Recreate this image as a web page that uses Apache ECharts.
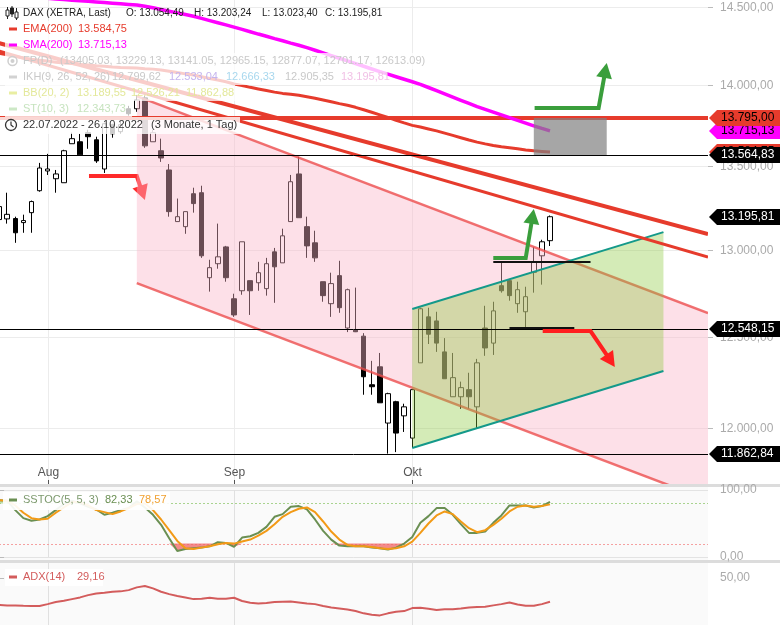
<!DOCTYPE html>
<html>
<head>
<meta charset="utf-8">
<title>DAX</title>
<script src="https://cdn.jsdelivr.net/npm/echarts@6.0.0/dist/echarts.min.js"></script>
<style>
html,body{margin:0;padding:0;background:#fff;}
#chart{width:780px;height:625px;}
</style>
</head>
<body>
<div id="chart"></div>
<script>
// ---------------- data ----------------
const dates = ['2022-07-22','2022-07-25','2022-07-26','2022-07-27','2022-07-28','2022-07-29',
'2022-08-01','2022-08-02','2022-08-03','2022-08-04','2022-08-05','2022-08-08','2022-08-09','2022-08-10','2022-08-11','2022-08-12','2022-08-15','2022-08-16','2022-08-17','2022-08-18','2022-08-19','2022-08-22','2022-08-23','2022-08-24','2022-08-25','2022-08-26','2022-08-29','2022-08-30','2022-08-31',
'2022-09-01','2022-09-02','2022-09-05','2022-09-06','2022-09-07','2022-09-08','2022-09-09','2022-09-12','2022-09-13','2022-09-14','2022-09-15','2022-09-16','2022-09-19','2022-09-20','2022-09-21','2022-09-22','2022-09-23','2022-09-26','2022-09-27','2022-09-28','2022-09-29','2022-09-30',
'2022-10-03','2022-10-04','2022-10-05','2022-10-06','2022-10-07','2022-10-10','2022-10-11','2022-10-12','2022-10-13','2022-10-14','2022-10-17','2022-10-18','2022-10-19','2022-10-20','2022-10-21','2022-10-24','2022-10-25','2022-10-26',
'2022-10-27','2022-10-28','2022-10-31','2022-11-01','2022-11-02','2022-11-03','2022-11-04','2022-11-07','2022-11-08','2022-11-09','2022-11-10','2022-11-11','2022-11-14','2022-11-15','2022-11-16','2022-11-17','2022-11-18','2022-11-21','2022-11-22'];

const open = [13179,13183,13185,13161,13220,13351,13470,13423,13399,13636,
13648,13704,13660,13482,13753,13710,13852,13852,13920,13648,
13593,13476,13167,13137,13333,13339,12839,12920,13018,12718,
12764,12822,12810,12776,12989,12925,13167,13452,13137,13042,
12816,12690,12851,12552,12540,12506,12236,12335,12027,12143,
12066,11946,12357,12615,12592,12418,12170,12170,12209,12115,
12552,12467,12793,12822,12690,12644,12870,12966,13054.49];
const close = [13256,13210,13101,13173,13286,13488,13482,13452,13593,13667,
13568,13679,13531,13759,13697,13753,13821,13907,13623,13704,
13549,13226,13196,13226,13274,12966,12897,12960,12839,12626,
13048,12764,12868,12920,12902,13083,13405,13190,13024,12954,
12736,12805,12667,12770,12531,12280,12225,12137,12187,11973,
12115,12209,12661,12517,12467,12269,12275,12220,12170,12357,
12440,12649,12764,12736,12770,12730,12931,13048,13195.81];
const low = [13167,13155,13042,13101,13101,13345,13446,13339,13399,13636,
13568,13605,13519,13458,13673,13697,13809,13833,13611,13648,
13525,13196,13167,13095,13220,12954,12759,12891,12816,12615,
12741,12626,12764,12736,12695,12925,13167,13190,12954,12931,
12701,12615,12638,12529,12529,12181,12181,12137,11862.84,11871,
11979,11893,12357,12462,12418,12269,12170,12104,12104,12000,
12396,12401,12753,12707,12638,12552,12753,12799,13023.40];
const high = [13369,13339,13196,13208,13292,13519,13574,13476,13599,13704,
13697,13722,13679,13765,13759,13771,13870,13938,13932,13722,
13667,13512,13304,13226,13369,13381,12943,13155,13024,12747,
13048,12822,12931,12954,13012,13125,13446,13556,13196,13113,
12816,12868,12937,12776,12782,12523,12368,12412,12192,12148,
12132,12209,12667,12667,12644,12495,12412,12253,12302,12379,
12678,12701,12931,12828,12816,12787,13018,13060,13203.24];

const ema200 = [14201,14192,14182,14172,14164,14158,14152,14145,14140,14136,
14131,14127,14122,14119,14115,14112,14110,14108,14104,14101,
14096,14088,14079,14071,14064,14053,14042,14032,14021,14007,
13998,13986,13976,13966,13956,13948,13943,13936,13927,13918,
13907,13896,13884,13874,13861,13846,13830,13814,13798,13780,
13764,13749,13739,13727,13715,13701,13687,13673,13659,13646,
13635,13625,13617,13612,13605,13598,13593,13589,13584.75];
const sma200 = [14590,14585,14578,14572,14566,14561,14557,14553,14549,14545,
14541,14537,14533,14529,14525,14521,14517,14513,14505,14495,
14484,14473,14462,14451,14440,14426,14412,14398,14384,14370,
14355,14340,14325,14311,14296,14282,14267,14253,14238,14221,
14204,14187,14170,14153,14136,14119,14102,14085,14069,14053,
14037,14021,14005,13985,13965,13945,13925,13905,13885,13865,
13848,13831,13814,13797,13780,13763,13746,13730,13715.13];

const sstocK = [85,84,70,58,54,56,61,70,79,84,
80,75,71,63,66,70,73,83,74,63,
48,28,9,12,13,14,16,22,21,15,
29,31,36,45,60,64,75,76,71,56,
39,26,17,16,16,16,14,13,11,14,
20,30,51,61,73,73,63,49,36,36,
38,51,62,77,77,77,74,76,82.33];
const sstocD = [85,84,77,66,58,56,57,66,74,82,
82,77,70,67,64,68,73,79,80,70,
56,40,24,13,12,14,16,19,21,20,
23,26,32,39,49,60,67,72,74,67,
53,38,26,18,16,16,15,13,12,13,
16,23,36,50,62,68,64,53,43,37,
40,48,57,68,75,77,75,76,78.57];
const adx14 = [26.3,26.0,25.8,25.6,25.5,25.4,27.1,28.9,30.0,31.5,
33.0,35.0,36.5,37.1,38.0,38.3,39.4,41.8,43.0,40.9,
38.0,35.9,34.2,33.0,31.5,31.9,32.7,31.9,31.9,32.7,
29.8,28.3,27.7,28.0,28.9,29.2,29.5,28.6,27.7,27.1,
25.4,24.2,23.3,22.4,21.0,19.0,17.8,17.2,19.0,20.4,
21.0,23.6,23.9,23.0,21.9,22.5,22.7,23.3,24.2,24.5,
24.8,26.0,27.1,28.6,26.8,25.6,25.6,27.1,29.16];

const priceTicks = [12000,12500,13000,13500,14000,14500];
const monthTickDates = ['2022-08-01','2022-09-01','2022-10-03'];
const monthTickLabels = ['Aug','Sep','Okt'];

// drawings: [category index (fractional), price]
const levelLines = [13564.83, 12548.15, 11862.84];
const resistanceLevel = 13795;
const trendA = [[0,14267],[87.5,13094]];
const trendB = [[0,14216],[87.5,12959]];
const pinkUpper = [[17,13931],[87.5,12637]];
const pinkLower = [[17,12808],[87.5,11618]];
const greenUpper = [[51,12660],[82,13105]];
const greenLower = [[51,11893],[82,12312]];
const greyBox = [[66,13564.83],[75,13795]];
const shortLines = [[[61,12931],[73,12931]], [[63,12552],[71,12552]]];
const arrowRedLeft = [[11.1,13439],[17.0,13439],[18.0,13295]];
const arrowGreenSmall = [[61.0,12953],[65.0,12953],[66.0,13242]];
const arrowGreenBig = [[66.1,13857],[74.0,13857],[75.0,14140]];
const arrowRedRight = [[67.1,12535],[73.0,12535],[76.0,12334]];

const tags = [
  {v:13715.13, bg:'#ff00ff', fg:'#000'},
  {v:13584.75, bg:'#e63b2c', fg:'#000'},
  {v:13795.00, bg:'#e63b2c', fg:'#000'},
  {v:13564.83, bg:'#000', fg:'#fff'},
  {v:13195.81, bg:'#000', fg:'#fff'},
  {v:12548.15, bg:'#000', fg:'#fff'},
  {v:11862.84, bg:'#000', fg:'#fff'}
];

// ---------------- helpers ----------------
const FONT = '"Liberation Sans", Arial, sans-serif';
const RED = '#e63b2c';
function de(v){
  const s = v.toFixed(2).split('.');
  return s[0].replace(/\B(?=(\d{3})+(?!\d))/g, '.') + ',' + s[1];
}
const ohlc = open.map((o,i) => [o, close[i], low[i], high[i]]);
const monthIdx = monthTickDates.map(d => dates.indexOf(d));
const XMIN = -0.5, XMAX = dates.length - 0.5;

function cp(api, pts){ return pts.map(p => api.coord(p)); }
function drawSeries(name, z, build, clip, xi, yi){
  return {type:'custom', name, xAxisIndex: xi == null ? 1 : xi, yAxisIndex: yi == null ? 0 : yi,
    z, clip: clip !== false, silent:true, data:[[0, 13000]],
    renderItem:(params, api) => ({type:'group', children: build(params, api)})};
}
function polyEl(api, pts, color, width){
  return {type:'polyline', shape:{points: cp(api, pts)}, style:{stroke:color, lineWidth:width, fill:null}};
}
function arrowEls(api, pts, color){
  const px = cp(api, pts);
  const n = px.length, tip = px[n-1], prev = px[n-2];
  const dx = tip[0]-prev[0], dy = tip[1]-prev[1], L = Math.hypot(dx, dy);
  const ux = dx/L, uy = dy/L, hl = 15, hw = 8;
  const base = [tip[0]-ux*hl, tip[1]-uy*hl];
  const shaft = px.slice(0, n-1).concat([[base[0]+ux*2, base[1]+uy*2]]);
  return [
    {type:'polyline', shape:{points:shaft}, style:{stroke:color, lineWidth:4, fill:null, lineJoin:'miter'}},
    {type:'polygon', shape:{points:[tip, [base[0]-uy*hw, base[1]+ux*hw], [base[0]+uy*hw, base[1]-ux*hw]]}, style:{fill:color}}
  ];
}
function txt(x, y, text, color, size, align){
  const a = align || 'left';
  return {type:'text', x, y, style:{text, fill:color, font:(size||12)+'px '+FONT, align:a, verticalAlign:'middle', textAlign:a, textVerticalAlign:'middle'}};
}

// month grid lines
function monthLines(xi, yi, yDummy, color, withLabels){
  return drawSeries('months'+xi, 1, (params, api) => {
    const cs = params.coordSys, ch = [];
    monthIdx.forEach((mi, k) => {
      const x = Math.round(api.coord([mi, yDummy])[0]) + 0.5;
      ch.push({type:'line', shape:{x1:x, y1:cs.y, x2:x, y2:cs.y+cs.height}, style:{stroke:color, lineWidth:1}});
      if (withLabels) {
        const b = cs.y + cs.height;
        ch.push({type:'line', shape:{x1:x, y1:b-4, x2:x, y2:b}, style:{stroke:'#555', lineWidth:1}});
        ch.push(txt(x, b-11, monthTickLabels[k], '#555', 12, 'center'));
      }
    });
    return ch;
  }, false, xi, yi);
}

// ---------------- graphic overlay (legends, panels) ----------------
const G = [];
function gRect(x, y, w, h, fill, z){ G.push({type:'rect', shape:{x, y, width:w, height:h}, style:{fill}, z: z == null ? 100 : z, silent:true}); }
function gText(x, y, text, color, size){ const t = txt(x, y, text, color, size || 11); t.z = 101; t.silent = true; G.push(t); }
function gDash(y, color){ gRect(9, y-1.5, 8, 3, color, 101); }

// panel backgrounds & separators
gRect(0, 487, 708, 73, '#fafafa', 0);
gRect(0, 563, 708, 62, '#fafafa', 0);
gRect(0, 484, 780, 3, '#dcdcdc', 0);
gRect(0, 560, 780, 3, '#dcdcdc', 0);

// row 1
G.push({type:'group', z:101, silent:true, children:[
  {type:'line', shape:{x1:7.5, y1:7, x2:7.5, y2:19}, style:{stroke:'#222', lineWidth:1}, z:101},
  {type:'rect', shape:{x:6, y:10, width:3, height:6}, style:{fill:'#fff', stroke:'#222', lineWidth:1}, z:101},
  {type:'line', shape:{x1:12, y1:6, x2:12, y2:17}, style:{stroke:'#222', lineWidth:1}, z:101},
  {type:'rect', shape:{x:10.5, y:8, width:3, height:6}, style:{fill:'#222', stroke:'#222', lineWidth:1}, z:101},
  {type:'line', shape:{x1:16.5, y1:8, x2:16.5, y2:20}, style:{stroke:'#222', lineWidth:1}, z:101},
  {type:'rect', shape:{x:15, y:12, width:3, height:6}, style:{fill:'#fff', stroke:'#222', lineWidth:1}, z:101}
]});
gText(23, 13, 'DAX (XETRA, Last)', '#222', 10);
gText(126, 13, 'O: 13.054,49', '#222', 10);
gText(194, 13, 'H: 13.203,24', '#222', 10);
gText(262, 13, 'L: 13.023,40', '#222', 10);
gText(325, 13, 'C: 13.195,81', '#222', 10);
// row 2 EMA
gRect(5, 21, 127, 16, 'rgba(255,255,255,0.75)');
gDash(29, RED); gText(23, 29, 'EMA(200)', RED); gText(78, 29, '13.584,75', RED);
// row 3 SMA
gRect(5, 37, 127, 16, 'rgba(255,255,255,0.75)');
gDash(45, '#ff00ff'); gText(23, 45, 'SMA(200)', '#ff00ff'); gText(78, 45, '13.715,13', '#ff00ff');
// row 4 FP
gRect(5, 53, 416, 16, 'rgba(255,255,255,0.75)');
G.push({type:'circle', shape:{cx:12.5, cy:61, r:4.5}, style:{fill:null, stroke:'#cfcfcf', lineWidth:1.5}, z:101, silent:true});
G.push({type:'circle', shape:{cx:12.5, cy:61, r:2}, style:{fill:'#cfcfcf'}, z:101, silent:true});
gText(23, 61, 'FP(D)', '#c9c9c9');
gText(60, 61, '(13405.03, 13229.13, 13141.05, 12965.15, 12877.07, 12701.17, 12613.09)', '#c9c9c9');
// row 5 IKH
gRect(5, 69, 382, 16, 'rgba(255,255,255,0.75)');
gDash(77, '#d2d2d2'); gText(23, 77, 'IKH(9, 26, 52, 26)', '#c9c9c9');
gText(112, 77, '12.799,62', '#c9c9c9'); gText(169, 77, '12.533,04', '#c4b4ee');
gText(226, 77, '12.666,33', '#a9d8ee'); gText(285, 77, '12.905,35', '#c9c9c9');
gText(341, 77, '13.195,81', '#f1c1e6');
// row 6 BB
gRect(5, 85, 230, 16, 'rgba(255,255,255,0.75)');
gDash(93, '#e9eea2'); gText(23, 93, 'BB(20, 2)', '#e3e89a');
gText(77, 93, '13.189,55', '#e3e89a'); gText(131, 93, '12.526,21', '#e3e89a'); gText(186, 93, '11.862,88', '#e3e89a');
// row 7 ST
gRect(5, 101, 127, 16, 'rgba(255,255,255,0.75)');
gDash(109, '#cde8c6'); gText(23, 109, 'ST(10, 3)', '#c6e3be'); gText(77, 109, '12.343,73', '#c6e3be');
// row 8 date range
gRect(0, 117, 240, 17, 'rgba(255,255,255,0.8)');
G.push({type:'circle', shape:{cx:11, cy:125, r:5.5}, style:{fill:null, stroke:'#333', lineWidth:1.3}, z:101, silent:true});
G.push({type:'polyline', shape:{points:[[11,121.5],[11,125],[13.5,127]]}, style:{fill:null, stroke:'#333', lineWidth:1.2}, z:101, silent:true});
gText(23, 125, '22.07.2022 - 26.10.2022', '#333');
gText(151, 125, '(3 Monate, 1 Tag)', '#333');
// SSTOC legend
gRect(3, 492, 167, 18, 'rgba(255,255,255,0.92)');
gDash(500, '#6a8f52'); gText(23, 500, 'SSTOC(5, 5, 3)', '#7d9a6e');
gText(105, 500, '82,33', '#6a8f52'); gText(139, 500, '78,57', '#f0a030');
// ADX legend
gRect(5, 569, 98, 17, 'rgba(255,255,255,0.92)');
gDash(577, '#d35c5c'); gText(23, 577, 'ADX(14)', '#d35c5c'); gText(77, 577, '29,16', '#d35c5c');

// ---------------- chart ----------------
const chart = echarts.init(document.getElementById('chart'), null, {width:780, height:625});
const hidden = {show:false};
const gridBase = {outerBoundsMode:'none', containLabel:false};
const option = {
  animation:false,
  backgroundColor:'#fff',
  grid:[
    Object.assign({left:-5, top:0, width:713, height:484}, gridBase),
    Object.assign({left:-5, top:490, width:713, height:67}, gridBase),
    Object.assign({left:-5, top:563, width:713, height:72}, gridBase)
  ],
  xAxis:[
    {type:'category', gridIndex:0, data:dates, boundaryGap:true, show:false},
    {type:'value', gridIndex:0, min:XMIN, max:XMAX, show:false},
    {type:'category', gridIndex:1, data:dates, boundaryGap:true, show:false},
    {type:'category', gridIndex:2, data:dates, boundaryGap:true, show:false},
    {type:'value', gridIndex:1, min:XMIN, max:XMAX, show:false},
    {type:'value', gridIndex:2, min:XMIN, max:XMAX, show:false}
  ],
  yAxis:[
    {type:'log', logBase:10, gridIndex:0, min:11702, max:14546, position:'right',
      axisLine:{show:true, lineStyle:{color:'#dcdcdc'}}, axisTick:hidden, axisLabel:hidden, splitLine:hidden},
    {type:'value', gridIndex:1, min:0, max:100, interval:100, position:'right',
      axisLine:{show:true, lineStyle:{color:'#dcdcdc'}},
      axisTick:{show:true, length:5, lineStyle:{color:'#bbb'}},
      axisLabel:{show:true, margin:12, color:'#aaa', fontSize:12, fontFamily:FONT, formatter:v => de(v)},
      splitLine:{show:true, lineStyle:{color:'#e3e3e3'}}},
    {type:'value', gridIndex:2, min:0, max:63.2, interval:50, position:'right',
      axisLine:{show:true, lineStyle:{color:'#dcdcdc'}},
      axisTick:{show:true, length:5, lineStyle:{color:'#bbb'}, customValues:[50]},
      axisLabel:{show:true, margin:12, color:'#aaa', fontSize:12, fontFamily:FONT, customValues:[50], formatter:v => de(v)},
      splitLine:hidden}
  ],
  graphic: G,
  series:[
    // price grid lines + right axis labels
    drawSeries('priceGrid', 1, (params, api) => {
      const cs = params.coordSys, r = cs.x + cs.width, ch = [];
      priceTicks.forEach(v => {
        const y = Math.round(api.coord([0, v])[1]) + 0.5;
        ch.push({type:'line', shape:{x1:0, y1:y, x2:r, y2:y}, style:{stroke:'#ececec', lineWidth:1}});
        ch.push({type:'line', shape:{x1:r, y1:y, x2:r+5, y2:y}, style:{stroke:'#bbb', lineWidth:1}});
        ch.push(txt(r+12, y, de(v), '#aaa', 12));
      });
      return ch;
    }, false),
    monthLines(1, 0, 13000, '#ececec', true),
    monthLines(4, 1, 50, '#e0e0e0', false),
    monthLines(5, 2, 30, '#e0e0e0', false),
    // candles
    {type:'candlestick', name:'DAX', xAxisIndex:0, yAxisIndex:0, data:ohlc, barWidth:5, z:2, silent:true,
      itemStyle:{color:'#fff', color0:'#000', borderColor:'#000', borderColor0:'#000', borderWidth:1}},
    // left red arrow (under the pink channel)
    drawSeries('arrowRedLeft', 3, (p, api) => arrowEls(api, arrowRedLeft, '#ff2a2a')),
    // pink channel
    drawSeries('pinkChannel', 4, (p, api) => [
      {type:'polygon', shape:{points: cp(api, [pinkUpper[0], pinkUpper[1], pinkLower[1], pinkLower[0]])}, style:{fill:'rgba(250,180,200,0.42)'}},
      polyEl(api, pinkUpper, 'rgba(236,78,78,0.8)', 2.5),
      polyEl(api, pinkLower, 'rgba(236,78,78,0.8)', 2.5)
    ]),
    // green channel
    drawSeries('greenChannel', 6, (p, api) => [
      {type:'polygon', shape:{points: cp(api, [greenUpper[0], greenUpper[1], greenLower[1], greenLower[0]])}, style:{fill:'rgba(139,201,60,0.37)'}},
      polyEl(api, greenUpper, '#14998a', 2),
      polyEl(api, greenLower, '#14998a', 2)
    ]),
    // trend lines + resistance
    drawSeries('trendLines', 8, (p, api) => [
      polyEl(api, trendA, RED, 4),
      polyEl(api, trendB, RED, 3),
      polyEl(api, [[XMIN, resistanceLevel],[XMAX, resistanceLevel]], RED, 4)
    ]),
    {type:'line', name:'EMA(200)', xAxisIndex:0, yAxisIndex:0, data:ema200, symbol:'none', z:8, silent:true,
      lineStyle:{color:RED, width:3}},
    {type:'line', name:'SMA(200)', xAxisIndex:0, yAxisIndex:0, data:sma200, symbol:'none', z:8, silent:true,
      lineStyle:{color:'#ff00ff', width:3.5}},
    // grey box
    drawSeries('greyBox', 9, (p, api) => [
      {type:'polygon', shape:{points: cp(api, [greyBox[0], [greyBox[1][0], greyBox[0][1]], greyBox[1], [greyBox[0][0], greyBox[1][1]]])}, style:{fill:'rgba(128,128,128,0.7)'}}
    ]),
    // black level lines
    drawSeries('levels', 10, (params, api) => {
      const cs = params.coordSys, ch = [];
      levelLines.forEach(v => {
        const y = Math.round(api.coord([0, v])[1]) + 0.5;
        ch.push({type:'line', shape:{x1:cs.x, y1:y, x2:cs.x+cs.width, y2:y}, style:{stroke:'#000', lineWidth:1}});
      });
      shortLines.forEach(s => {
        const a = api.coord(s[0]), b = api.coord(s[1]);
        const y = Math.round(a[1]);
        ch.push({type:'line', shape:{x1:a[0], y1:y, x2:b[0], y2:y}, style:{stroke:'#111', lineWidth:2}});
      });
      return ch;
    }),
    // arrows
    drawSeries('arrows', 11, (p, api) => [].concat(
      arrowEls(api, arrowGreenSmall, '#3a9e3c'),
      arrowEls(api, arrowGreenBig, '#3a9e3c'),
      arrowEls(api, arrowRedRight, '#ff1f1f')
    )),
    // right price tags
    {type:'custom', name:'tags', xAxisIndex:1, yAxisIndex:0, z:60, clip:false, silent:true,
      data: tags.map(t => [0, t.v]),
      renderItem:(params, api) => {
        const t = tags[params.dataIndex], cs = params.coordSys;
        const x0 = cs.x + cs.width + 1, W = api.getWidth();
        const y = Math.round(api.coord([0, api.value(1)])[1]);
        return {type:'group', children:[
          {type:'polygon', shape:{points:[[x0, y],[x0+8, y-8],[W, y-8],[W, y+8],[x0+8, y+8]]}, style:{fill:t.bg}},
          txt(x0+12, y, de(t.v), t.fg, 12)
        ]};
      }},
    // SSTOC panel
    drawSeries('sstocLevels', 2, (params, api) => {
      const cs = params.coordSys;
      const y80 = Math.round(api.coord([0, 80])[1]) + 0.5, y20 = Math.round(api.coord([0, 20])[1]) + 0.5;
      return [
        {type:'line', shape:{x1:cs.x, y1:y80, x2:cs.x+cs.width, y2:y80}, style:{stroke:'#a9d38f', lineWidth:1, lineDash:[2,2]}},
        {type:'line', shape:{x1:cs.x, y1:y20, x2:cs.x+cs.width, y2:y20}, style:{stroke:'#f5a0a0', lineWidth:1, lineDash:[2,2]}}
      ];
    }, false, 4, 1),
    {type:'line', xAxisIndex:2, yAxisIndex:1, stack:'low', data:sstocK.map(v => Math.min(v, 20)), symbol:'none', z:3, silent:true, lineStyle:{opacity:0}},
    {type:'line', xAxisIndex:2, yAxisIndex:1, stack:'low', data:sstocK.map(v => 20 - Math.min(v, 20)), symbol:'none', z:3, silent:true, lineStyle:{opacity:0}, areaStyle:{color:'rgba(240,100,100,0.75)', opacity:1}},
    {type:'line', xAxisIndex:2, yAxisIndex:1, stack:'high', data:sstocK.map(v => 80), symbol:'none', z:3, silent:true, lineStyle:{opacity:0}},
    {type:'line', xAxisIndex:2, yAxisIndex:1, stack:'high', data:sstocK.map(v => Math.max(v, 80) - 80), symbol:'none', z:3, silent:true, lineStyle:{opacity:0}, areaStyle:{color:'rgba(150,205,120,0.6)', opacity:1}},
    {type:'line', name:'SSTOC K', xAxisIndex:2, yAxisIndex:1, data:sstocK, symbol:'none', z:5, silent:true, lineStyle:{color:'#6a8f52', width:2}},
    {type:'line', name:'SSTOC D', xAxisIndex:2, yAxisIndex:1, data:sstocD, symbol:'none', z:5, silent:true, lineStyle:{color:'#f29a16', width:2}},
    // ADX panel
    {type:'line', name:'ADX(14)', xAxisIndex:3, yAxisIndex:2, data:adx14, symbol:'none', z:5, silent:true, lineStyle:{color:'#d35c5c', width:2}}
  ]
};
chart.setOption(option);
</script>
</body>
</html>
